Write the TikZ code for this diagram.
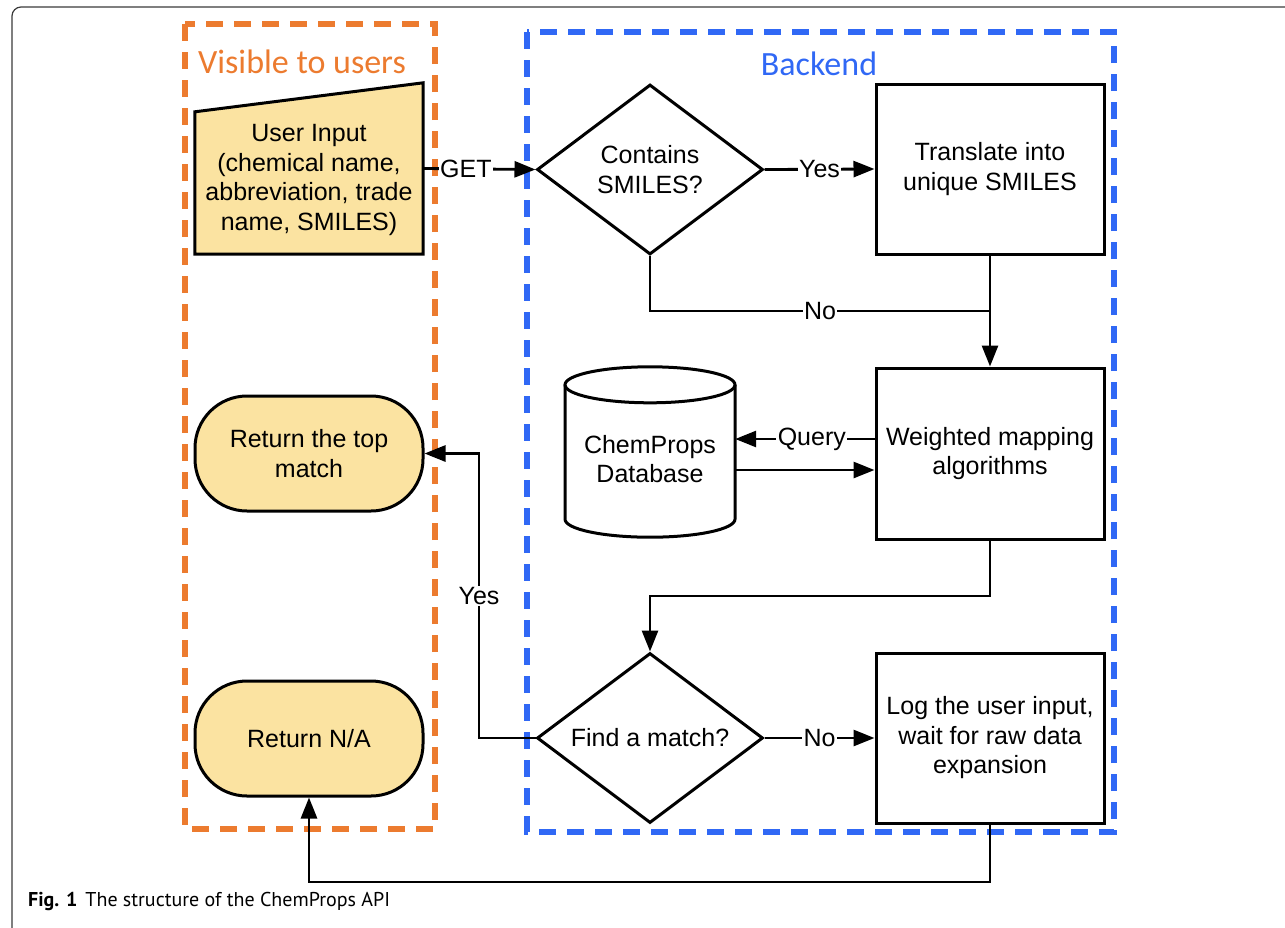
\documentclass[tikz,border=0pt]{standalone}
\usepackage{fontspec}
\setmainfont{Liberation Sans}
\newfontfamily\calib{Carlito}
\newfontfamily\capfont{PT Sans}
\usetikzlibrary{shapes.geometric,arrows.meta,calc}
\definecolor{orng}{HTML}{EC7B2F}
\definecolor{blu}{HTML}{3068F5}
\definecolor{ylw}{HTML}{FBE3A1}
\definecolor{frm}{HTML}{3A3A3A}
\begin{document}
\begin{tikzpicture}[x=1pt,y=1pt,
  shp/.style={draw=black, line width=3pt, font=\fontsize{25}{29.5}\selectfont, align=center, inner sep=0pt},
  box/.style={shp, rectangle, minimum width=228pt, minimum height=170pt},
  dec/.style={shp, diamond, aspect=1.33, minimum width=226pt, minimum height=170pt},
  term/.style={shp, rectangle, rounded corners=52pt, fill=ylw, minimum width=228pt, minimum height=115pt},
  conn/.style={line width=2.8pt, -{Triangle[length=21pt,width=16pt]}},
  wire/.style={line width=2.8pt},
  lbl/.style={fill=white, inner sep=1.5pt, font=\fontsize{25}{29}\selectfont},
  zone/.style={line width=5.5pt, dash pattern=on 17pt off 11pt},
  ztitle/.style={font=\calib\fontsize{34}{38}\selectfont, anchor=base},
]
\useasboundingbox (0,0) rectangle (1285,-927);
\clip (0,0) rectangle (1285,-927);
% outer frame
\draw[frm, line width=1.2pt, rounded corners=9pt] (12,-960) -- (12,-7) -- (1320,-7);
% zones
\draw[zone, orng] (185,-24) rectangle (435,-829);
\draw[zone, blu] (527,-32) rectangle (1114,-832);
\node[ztitle, text=orng] (vis) at (302,-73) {Visible to users};
\node[ztitle, text=blu] (bk) at (819,-75) {Backend};
% user input (manual input shape)
\node[inner sep=0pt, minimum width=228pt, minimum height=171pt] (ui) at (309,-168.5) {};
\draw[line width=3pt, fill=ylw, line join=miter] (ui.south west) -- (ui.south east) -- (ui.north east) -- ($(ui.north west)+(0,-29)$) -- cycle;
\node[font=\fontsize{25}{29.5}\selectfont, align=center, inner sep=0pt] (uitext) at (309,-180) {User Input\\(chemical name,\\abbreviation, trade\\name, SMILES)};
% terminals
\node[term] (rt) at (309,-453.5) {Return the top\\match};
\node[term] (rna) at (309,-738.5) {Return N/A};
% backend
\node[dec] (d1) at (650,-169.5) {Contains\\SMILES?};
\node[box] (b1) at (990,-169) {Translate into\\unique SMILES};
\node[box, minimum height=171pt] (b2) at (990,-453.5) {Weighted mapping\\algorithms};
\node[dec] (d2) at (650,-738) {Find a match?};
\node[box] (b3) at (990,-738) {Log the user input,\\wait for raw data\\expansion};
% database cylinder
\node[inner sep=0pt, minimum width=170pt, minimum height=170pt] (db) at (650,-452) {};
\coordinate (ct) at ($(db.north)+(0,-18)$);
\coordinate (cb) at ($(db.south)+(0,18)$);
\draw[line width=3pt] (ct) ellipse [x radius=85, y radius=18];
\draw[line width=3pt] ($(ct)+(-85,0)$) -- ($(cb)+(-85,0)$) arc[start angle=180, end angle=360, x radius=85, y radius=18] -- ($(ct)+(85,0)$);
\node[font=\fontsize{25}{29.5}\selectfont, align=center, inner sep=0pt] (dbtext) at (650,-459) {ChemProps\\Database};
% connectors
\draw[conn] (ui.east) -- node[lbl, pos=0.38]{GET} (d1.west);
\draw[conn] (d1.east) -- node[lbl]{Yes} (b1.west);
\draw[wire] (d1.south) |- node[lbl, pos=0.75]{No} (b1.south |- 0,-311);
\draw[conn] (b1.south) -- (b2.north);
\coordinate (q1) at ([yshift=14.5pt]b2.west);
\coordinate (q2) at ([yshift=-16.5pt]b2.west);
\draw[conn] (q1) -- node[lbl, pos=0.45]{Query} (q1 -| db.east);
\draw[conn] (q2 -| db.east) -- (q2);
\draw[conn] (b2.south) -- (990,-596) -| (d2.north);
\draw[conn] (d2.east) -- node[lbl]{No} (b3.west);
\draw[conn] (d2.west) -- (479,-738) -- node[lbl]{Yes} (479,-453.5) -- (rt.east);
\draw[conn] (b3.south) -- (990,-882) -| (rna.south);
% caption
\node[anchor=base west, inner sep=0pt, font=\capfont\fontsize{20}{22}\selectfont] (cap) at (28,-906) {\textbf{Fig. 1}\hspace{8pt}The structure of the ChemProps API};
\end{tikzpicture}
\end{document}
